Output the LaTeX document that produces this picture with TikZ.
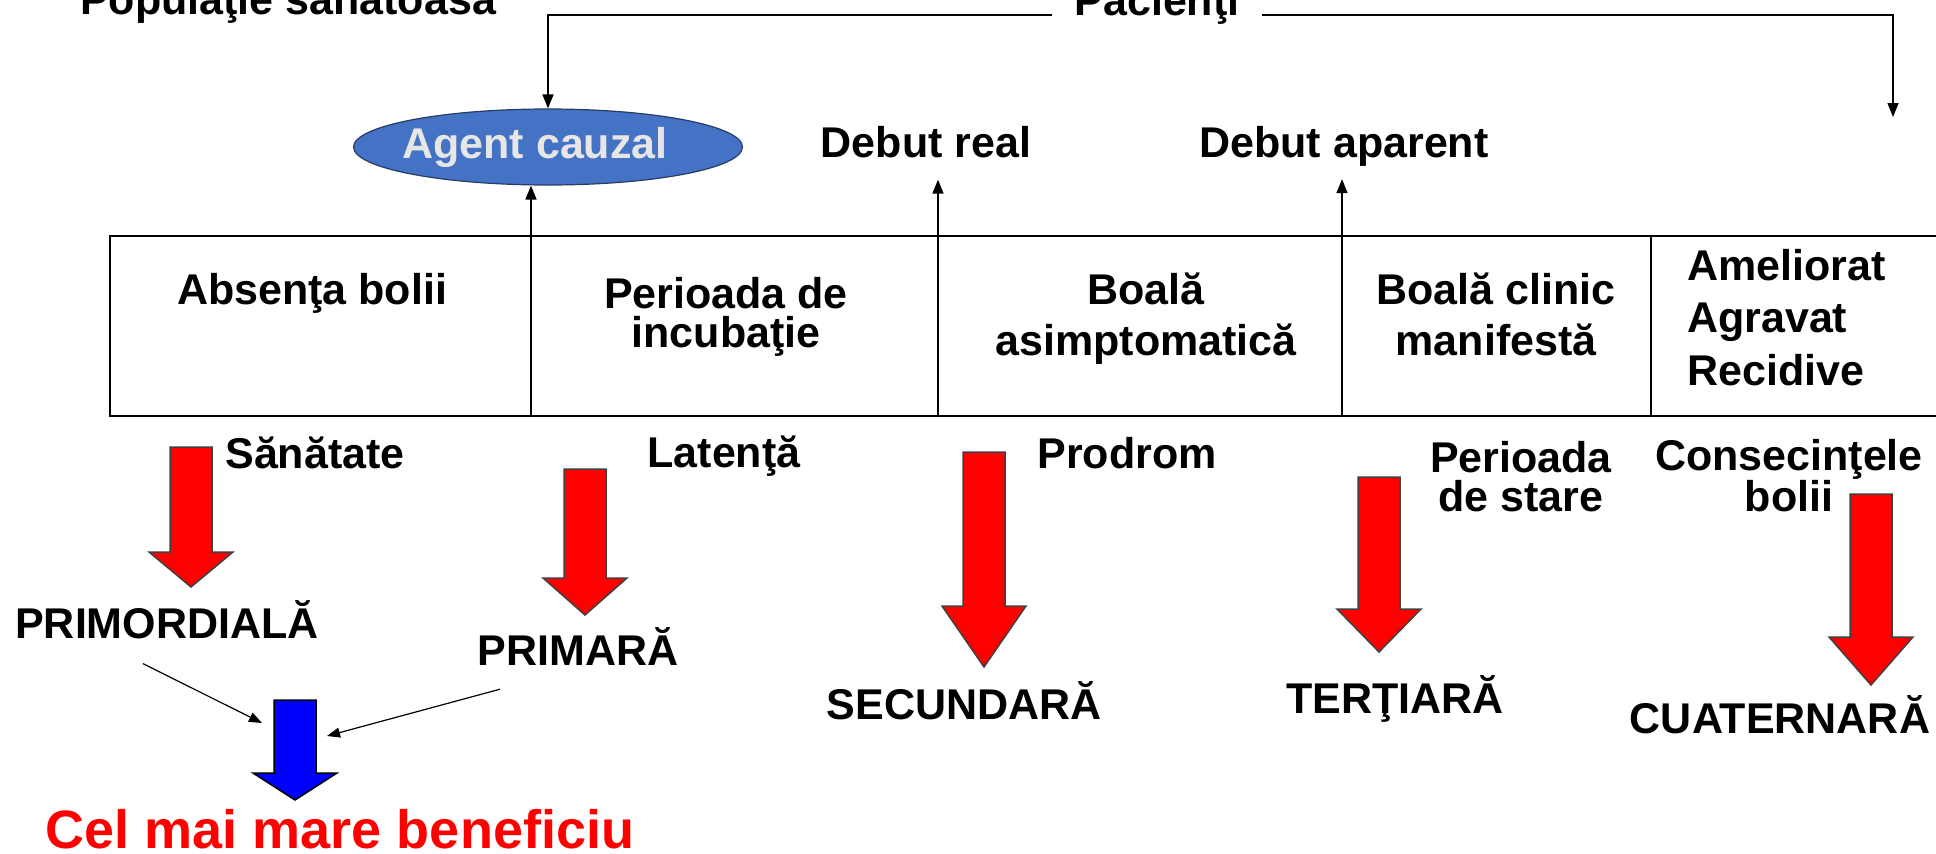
\documentclass[tikz,border=0pt]{standalone}
\usepackage{fontspec}
\setmainfont{Liberation Sans}
\usepackage{tikz}
\usetikzlibrary{arrows.meta, calc, shapes.geometric}

\definecolor{agentblue}{RGB}{68,114,196}
\definecolor{agentedge}{RGB}{40,60,100}
\definecolor{agenttext}{RGB}{231,230,230}

\newcommand{\blockarrow}[5]{%
	\filldraw[#1] (#2-21,#3) -- (#2+21,#3) -- (#2+21,#4) -- (#2+42,#4) -- (#2,#5) -- (#2-42,#4) -- (#2-21,#4) -- cycle;}

\begin{document}
\begin{tikzpicture}[x=1pt, y=-1pt,
		lbl/.style={font=\bfseries\fontsize{43}{51}\selectfont, inner sep=0pt, anchor=base, align=center},
		conn/.style={-{Triangle[length=14pt,width=11pt]}, line width=1.5pt},
		thinconn/.style={-{Triangle[length=13pt,width=10pt]}, line width=1.2pt},
		redarrow/.style={fill=red, draw=black!75, line width=1.5pt},
		bluearrow/.style={fill=blue, draw=black, line width=1.5pt}]
		\useasboundingbox (0,0) rectangle (1936,854);
		\node[lbl, anchor=base west] (healthy) at (80,14) {Populaţie sănătoasă};
		\node[lbl, inner xsep=22pt] (pac) at (1157,15) {Pacienţi};
		\node[ellipse, fill=agentblue, draw=agentedge, line width=1.2pt, minimum width=389pt, minimum height=76pt, inner xsep=-14pt, inner ysep=0pt,
			font=\bfseries\fontsize{43}{51}\selectfont, text=agenttext] (agent) at (548,147) {Agent cauzal\hspace*{26pt}};
		\coordinate (pacend) at (1893,117);
		\draw[conn] (pac.base west) -| (agent.north);
		\draw[conn] (pac.base east) -| (pacend);
		\node[lbl, inner ysep=22pt] (dreal) at (926,157) {Debut real};
		\node[lbl, inner ysep=13pt] (dapar) at (1344,157) {Debut aparent};
		\draw[line width=2pt] (110,236) rectangle (1960,416);
		\foreach \x/\n in {531/d1, 938/d2, 1342/d3, 1651/d4}
			\draw[line width=1.5pt] (\x,236) coordinate (\n) -- (\x,416);
		\draw[conn] (d1) -- (d1 |- agent.south);
		\draw[conn] (d2) -- (d2 |- dreal.south);
		\draw[conn] (d3) -- (d3 |- dapar.south);
		\node[lbl] (absent) at (312,304) {Absenţa bolii};
		\node[lbl, font=\bfseries\fontsize{43}{39}\selectfont] (incub) at (726,347) {Perioada de\\incubaţie};
		\node[lbl] (asimpt) at (1146,355) {Boală\\asimptomatică};
		\node[lbl] (clinic) at (1496,355) {Boală clinic\\manifestă};
		\node[lbl, anchor=base west, align=left, font=\bfseries\fontsize{43}{52.5}\selectfont] (evol) at (1687,385) {Ameliorat\\Agravat\\Recidive};
		\node[lbl] (sanat) at (315,468) {Sănătate};
		\node[lbl] (laten) at (724,467) {Latenţă};
		\node[lbl] (prodr) at (1127,468) {Prodrom};
		\node[lbl, font=\bfseries\fontsize{43}{39}\selectfont] (stare) at (1521,511) {Perioada\\de stare};
		\node[lbl, font=\bfseries\fontsize{43}{41}\selectfont] (conseq) at (1789,511) {Consecinţele\\bolii};
		\blockarrow{redarrow}{191}{447}{552}{587}
		\blockarrow{redarrow}{585}{469}{578}{615}
		\blockarrow{redarrow}{984}{452}{606}{667}
		\blockarrow{redarrow}{1379}{477}{609}{652}
		\blockarrow{redarrow}{1871}{494}{637}{685}
		\blockarrow{bluearrow}{295}{700}{773}{800}
		\node[lbl] (primo) at (167,638) {PRIMORDIALĂ};
		\node[lbl] (prima) at (578,665) {PRIMARĂ};
		\node[lbl] (secun) at (964,719) {SECUNDARĂ};
		\node[lbl] (terti) at (1395,713) {TERŢIARĂ};
		\node[lbl] (cuat) at (1780,733) {CUATERNARĂ};
		\node[lbl, text=red, font=\bfseries\fontsize{54}{60}\selectfont] (benefit) at (340,848) {Cel mai mare beneficiu};
		\coordinate (blueL) at (262,723);
		\coordinate (blueR) at (327,736);
		\draw[thinconn] ($(primo.south)+(-24,25)$) -- (blueL);
		\draw[thinconn] ($(prima.south)+(-78,24)$) -- (blueR);
	\end{tikzpicture}
\end{document}
